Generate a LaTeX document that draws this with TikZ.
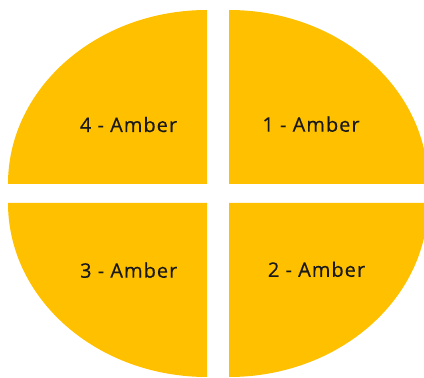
\documentclass[tikz,border=0pt]{standalone}
\usepackage{fontspec}
\setmainfont{Open Sans}[LetterSpace=5,FakeBold=0.4]
\definecolor{amber}{HTML}{FFC000}
\tikzset{
  quarter/.style={fill=amber},
  lbl/.style={font=\fontsize{20}{24}\selectfont, text=black!90, inner sep=0pt, anchor=base}
}
\begin{document}
\begin{tikzpicture}[x=1pt,y=1pt]
  % Page frame
  \useasboundingbox (0,0) rectangle (424,378);
  \clip (0,0) rectangle (424,378);

  % Upper quarters
  \fill[quarter] (207,194) -- (207,368) arc[start angle=90, end angle=180, x radius=199, y radius=174] -- cycle;
  \fill[quarter] (229,194) -- (229,368) arc[start angle=90, end angle=0, x radius=199, y radius=174] -- cycle;

  % Lower quarters
  \fill[quarter] (207,175) -- (207,1) arc[start angle=270, end angle=180, x radius=199, y radius=174] -- cycle;
  \fill[quarter] (229,175) -- (229,1) arc[start angle=-90, end angle=0, x radius=199, y radius=174] -- cycle;

  % Labels
  \node[lbl] (q4) at (128.5,246) {4 - Amber};
  \node[lbl] (q1) at (311,246.3) {1 - Amber};
  \node[lbl] (q3) at (128.7,100.3) {3 - Amber};
  \node[lbl] (q2) at (316.5,101.2) {2 - Amber};
\end{tikzpicture}
\end{document}
